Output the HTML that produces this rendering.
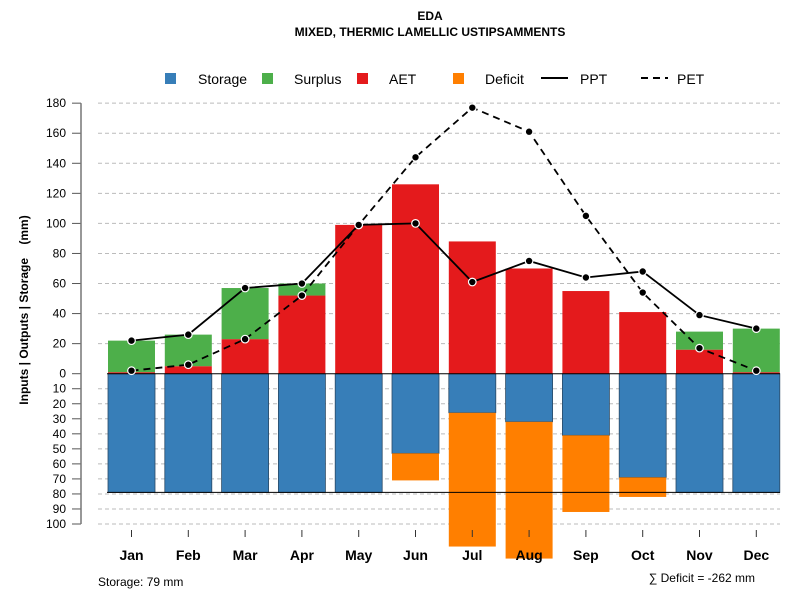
<!DOCTYPE html>
<html><head><meta charset="utf-8"><style>
body{margin:0;background:#fff}
svg text{font-family:"Liberation Sans",sans-serif}
</style></head><body>
<svg id="c" width="800" height="600" xmlns="http://www.w3.org/2000/svg">
<text x="430" y="20" text-anchor="middle" font-size="12" font-weight="bold">EDA</text>
<text x="430" y="36" text-anchor="middle" font-size="12" font-weight="bold">MIXED, THERMIC LAMELLIC USTIPSAMMENTS</text>
<g font-size="14">
<rect x="165" y="73" width="11" height="11" fill="#377eb8"/><text x="198" y="84">Storage</text>
<rect x="262" y="73" width="11" height="11" fill="#4daf4a"/><text x="294" y="84">Surplus</text>
<rect x="357" y="73" width="11" height="11" fill="#e41a1c"/><text x="389" y="84">AET</text>
<rect x="453" y="73" width="11" height="11" fill="#ff7f00"/><text x="485" y="84">Deficit</text>
<line x1="541" y1="78" x2="568" y2="78" stroke="#000" stroke-width="2"/><text x="580" y="84">PPT</text>
<line x1="641" y1="78" x2="668" y2="78" stroke="#000" stroke-width="2" stroke-dasharray="7,5"/><text x="677" y="84">PET</text>
</g>
<text transform="translate(28,310) rotate(-90)" text-anchor="middle" font-size="12" font-weight="bold" style="white-space:pre">Inputs | Outputs | Storage    (mm)</text>
<text x="98" y="586" font-size="12">Storage: 79 mm</text>
<text x="755" y="582" text-anchor="end" font-size="12">∑ Deficit = -262 mm</text>
<g id="plot"></g>
</svg>
<script>
const months=["Jan","Feb","Mar","Apr","May","Jun","Jul","Aug","Sep","Oct","Nov","Dec"];
const aet=[1,5,23,52,99,126,88,70,55,41,16,1];
const surplus=[21,21,34,8,0,0,0,0,0,0,12,29];
const storage=[79,79,79,79,79,53,26,32,41,69,79,79];
const deficit=[0,0,0,0,0,18,89,91,51,13,0,0];
const ppt=[22,26,57,60,99,100,61,75,64,68,39,30];
const pet=[2,6,23,52,99,144,177,161,105,54,17,2];
const topTicks=[0,20,40,60,80,100,120,140,160,180];
const botTicks=[10,20,30,40,50,60,70,80,90,100];
const capacity=79;
const NS="http://www.w3.org/2000/svg";
const g=document.getElementById('plot');
const y0=373.7,k=1.503;
const yUp=v=>y0-v*k, yDn=v=>y0+v*k;
const xc=i=>131.5+i*56.8;
const bw=47;
function mk(t,a){const e=document.createElementNS(NS,t);for(const n in a)e.setAttribute(n,a[n]);g.appendChild(e);return e;}
topTicks.forEach(v=>{
 const y=yUp(v);
 if(v>0){const l=mk('line',{x1:98,x2:780,y1:y,y2:y,stroke:'#bbb','stroke-dasharray':'4,3'});
 
 }
 const t=mk('line',{x1:72,x2:81,y1:y,y2:y,stroke:'#555'});
 
 
 const tx=mk('text',{x:66,y:y+4,'text-anchor':'end','font-size':12});tx.textContent=v;
 
 
});
botTicks.forEach(v=>{
 const y=yDn(v);
 const l=mk('line',{x1:98,x2:780,y1:y,y2:y,stroke:'#bbb','stroke-dasharray':'4,3'});
 
 
 const t=mk('line',{x1:72,x2:81,y1:y,y2:y,stroke:'#555'});
 
 
 const tx=mk('text',{x:66,y:y+4,'text-anchor':'end','font-size':12});tx.textContent=v;
 
 
});
const ax=mk('line',{x1:81,x2:81,y1:yUp(180),y2:yDn(100),stroke:'#777','stroke-width':1.5});


months.forEach((m,i)=>{
 const x=xc(i)-bw/2;
 const s=mk('rect',{x:x,y:y0,width:bw,height:storage[i]*k,fill:'#377eb8',stroke:'#2a4a66','stroke-width':0.8});
 
 
 if(deficit[i]>0){const d=mk('rect',{x:x,y:yDn(storage[i]),width:bw,height:deficit[i]*k,fill:'#ff7f00'});
 
 }
 const a=mk('rect',{x:x,y:yUp(aet[i]),width:bw,height:aet[i]*k,fill:'#e41a1c'});
 
 
 if(surplus[i]>0){const p=mk('rect',{x:x,y:yUp(aet[i]+surplus[i]),width:bw,height:surplus[i]*k,fill:'#4daf4a'});
 
 }
 const t=mk('line',{x1:xc(i),x2:xc(i),y1:530,y2:537,stroke:'#333'});
 
 
 const tx=mk('text',{x:xc(i),y:560,'text-anchor':'middle','font-size':14,'font-weight':'bold'});tx.textContent=m;
 
 
});
const zl=mk('line',{x1:107,x2:780,y1:y0,y2:y0,stroke:'#000'});


const cl=mk('line',{x1:107,x2:780,y1:yDn(capacity),y2:yDn(capacity),stroke:'#000'});


function series(arr,name,dash){
 const pts=arr.map((v,i)=>xc(i)+','+yUp(v)).join(' ');
 const pl=mk('polyline',{points:pts,fill:'none',stroke:'#000','stroke-width':1.8});
 if(dash)pl.setAttribute('stroke-dasharray','7,5');
 
 
 arr.forEach((v,i)=>{const c=mk('circle',{cx:xc(i),cy:yUp(v),r:3.8,fill:'#000',stroke:'#fff','stroke-width':1.2});
 
 });
}
series(pet,'pet',true);
series(ppt,'ppt',false);
</script>
</body></html>
